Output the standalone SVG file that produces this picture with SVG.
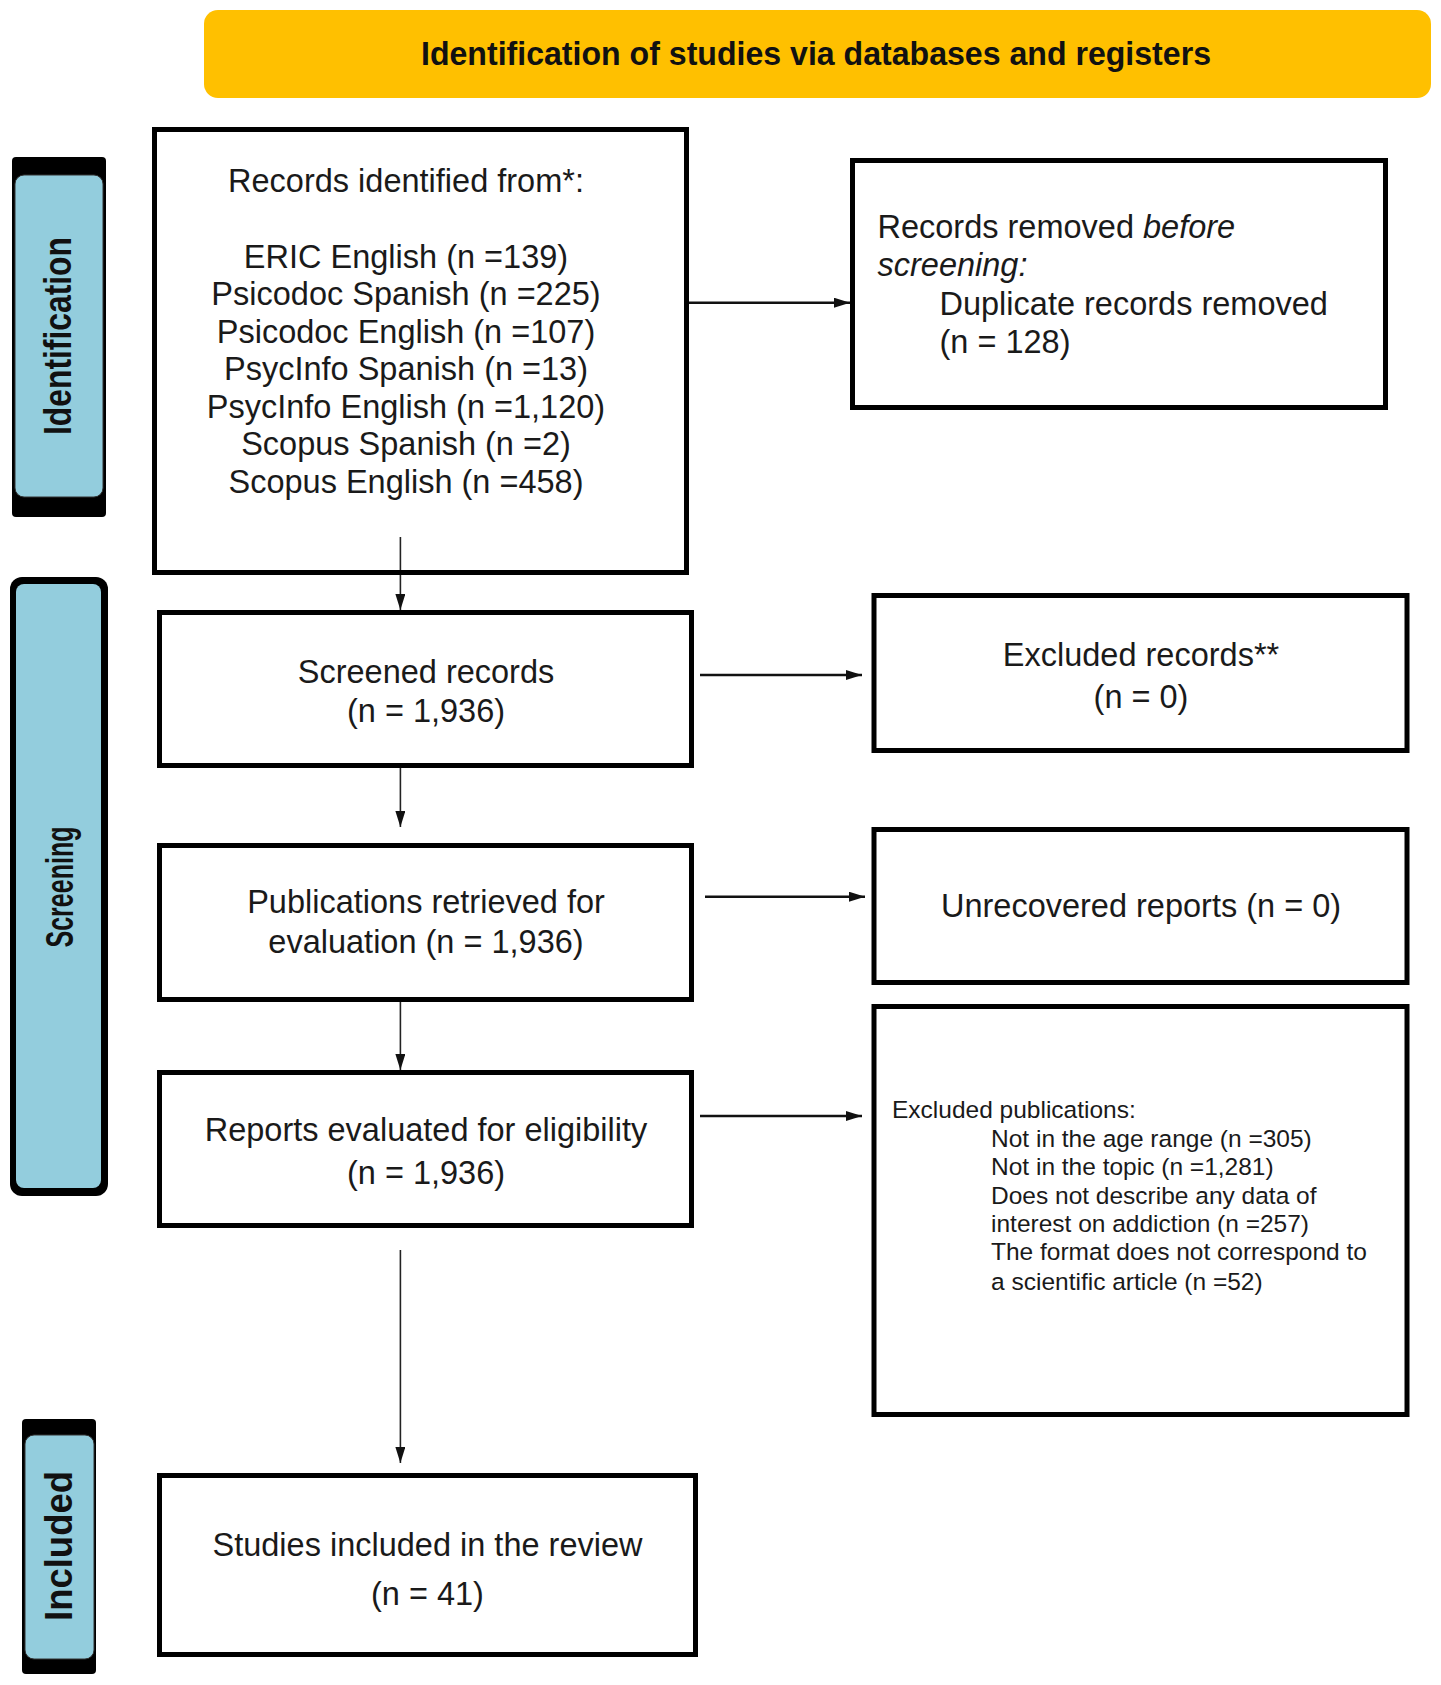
<svg xmlns="http://www.w3.org/2000/svg" width="1441" height="1685" viewBox="0 0 1441 1685">
<style>
.box{fill:#fff;stroke:#000;stroke-width:5}
.t{font-family:"Liberation Sans",Arial,sans-serif;font-size:32.5px;fill:#1a1a1a}
.c{text-anchor:middle}
.s{font-family:"Liberation Sans",Arial,sans-serif;font-size:24.5px;fill:#1a1a1a}
.lab{font-family:"Liberation Sans",Arial,sans-serif;font-weight:bold;font-size:38px;fill:#111;text-anchor:middle}
.blue{fill:#93CDDD}
.vl{stroke:#222;stroke-width:1.6;fill:none}
.hl{stroke:#111;stroke-width:2.6;fill:none}
</style>
<defs>
<marker id="ah" markerUnits="userSpaceOnUse" markerWidth="16" markerHeight="10" refX="16" refY="5" orient="auto">
<path d="M0,0 L16,5 L0,10 z" fill="#111"/>
</marker>
</defs>
<rect width="1441" height="1685" fill="#fff"/>

<g id="header">
<rect x="204" y="10" width="1227" height="88" rx="14" fill="#FFC000"/>
<text x="816" y="65" font-family="Liberation Sans, Arial, sans-serif" font-weight="bold" font-size="34" fill="#111" text-anchor="middle" textLength="790" lengthAdjust="spacingAndGlyphs">Identification of studies via databases and registers</text>
</g>

<g id="label-identification">
<rect x="12" y="157" width="94" height="360" rx="4" fill="#000"/>
<rect x="15" y="175" width="88" height="322" rx="9" class="blue" stroke="#333" stroke-width="1"/>
<text class="lab" transform="translate(71,336) rotate(-90)" textLength="198" lengthAdjust="spacingAndGlyphs">Identification</text>
</g>

<g id="label-screening">
<rect x="10" y="577" width="98" height="619" rx="12" fill="#000"/>
<rect x="16" y="584" width="85" height="604" rx="8" class="blue"/>
<text class="lab" transform="translate(73,887) rotate(-90)" textLength="121" lengthAdjust="spacingAndGlyphs">Screening</text>
</g>

<g id="label-included">
<rect x="22" y="1419" width="74" height="255" rx="4" fill="#000"/>
<rect x="25" y="1435" width="69" height="224" rx="9" class="blue" stroke="#333" stroke-width="1"/>
<text class="lab" transform="translate(72,1546) rotate(-90)" textLength="150" lengthAdjust="spacingAndGlyphs">Included</text>
</g>

<g id="connectors">
<line class="vl" x1="400.4" y1="537" x2="400.4" y2="610" marker-end="url(#ah)"/>
<line class="hl" x1="689" y1="302.7" x2="850" y2="302.7" marker-end="url(#ah)"/>
<line class="vl" x1="400.4" y1="742" x2="400.4" y2="827" marker-end="url(#ah)"/>
<line class="hl" x1="700" y1="675" x2="862" y2="675" marker-end="url(#ah)"/>
<line class="vl" x1="400.4" y1="988" x2="400.4" y2="1070" marker-end="url(#ah)"/>
<line class="hl" x1="705" y1="896.7" x2="865" y2="896.7" marker-end="url(#ah)"/>
<line class="vl" x1="400.4" y1="1250" x2="400.4" y2="1463" marker-end="url(#ah)"/>
<line class="hl" x1="700" y1="1116" x2="862" y2="1116" marker-end="url(#ah)"/>
</g>

<g id="records-identified">
<rect class="box" x="154.5" y="129.5" width="532" height="443" fill-opacity="0"/>
<text class="t c" x="406" y="191.7">Records identified from*:</text>
<text class="t c" x="406" y="268.3">ERIC English (n =139)</text>
<text class="t c" x="406" y="305">Psicodoc Spanish (n =225)</text>
<text class="t c" x="406" y="342.7">Psicodoc English (n =107)</text>
<text class="t c" x="406" y="380">PsycInfo Spanish (n =13)</text>
<text class="t c" x="406" y="417.7">PsycInfo English (n =1,120)</text>
<text class="t c" x="406" y="455">Scopus Spanish (n =2)</text>
<text class="t c" x="406" y="492.7">Scopus English (n =458)</text>
</g>

<g id="records-removed">
<rect class="box" x="852.5" y="160.5" width="533" height="247"/>
<text class="t" x="877.5" y="238.3">Records removed <tspan font-style="italic">before</tspan></text>
<text class="t" x="877.5" y="276" font-style="italic">screening:</text>
<text class="t" x="939.5" y="315">Duplicate records removed</text>
<text class="t" x="939.5" y="352.7">(n = 128)</text>
</g>

<g id="screened-records">
<rect class="box" x="159.5" y="612.5" width="532" height="153"/>
<text class="t c" x="426" y="683.3">Screened records</text>
<text class="t c" x="426" y="721.7">(n = 1,936)</text>
</g>

<g id="excluded-records">
<rect class="box" x="874" y="595.5" width="533" height="155"/>
<text class="t c" x="1141" y="666">Excluded records**</text>
<text class="t c" x="1141" y="708.3">(n = 0)</text>
</g>

<g id="publications-retrieved">
<rect class="box" x="159.5" y="845.5" width="532" height="154"/>
<text class="t c" x="426" y="913.3">Publications retrieved for</text>
<text class="t c" x="426" y="953.3">evaluation (n = 1,936)</text>
</g>

<g id="unrecovered-reports">
<rect class="box" x="874" y="829.5" width="533" height="153"/>
<text class="t c" x="1141" y="916.7">Unrecovered reports (n = 0)</text>
</g>

<g id="reports-evaluated">
<rect class="box" x="159.5" y="1072.5" width="532" height="153"/>
<text class="t c" x="426" y="1141">Reports evaluated for eligibility</text>
<text class="t c" x="426" y="1183.6">(n = 1,936)</text>
</g>

<g id="excluded-publications">
<rect class="box" x="874" y="1006.5" width="533" height="408"/>
<text class="s" x="892" y="1118.3">Excluded publications:</text>
<text class="s" x="991" y="1146.7">Not in the age range (n =305)</text>
<text class="s" x="991" y="1175">Not in the topic (n =1,281)</text>
<text class="s" x="991" y="1204">Does not describe any data of</text>
<text class="s" x="991" y="1231.7">interest on addiction (n =257)</text>
<text class="s" x="991" y="1260">The format does not correspond to</text>
<text class="s" x="991" y="1290">a scientific article (n =52)</text>
</g>

<g id="studies-included">
<rect class="box" x="159.5" y="1475.5" width="536" height="179"/>
<text class="t c" x="427.5" y="1556">Studies included in the review</text>
<text class="t c" x="427.5" y="1604.7">(n = 41)</text>
</g>
</svg>
